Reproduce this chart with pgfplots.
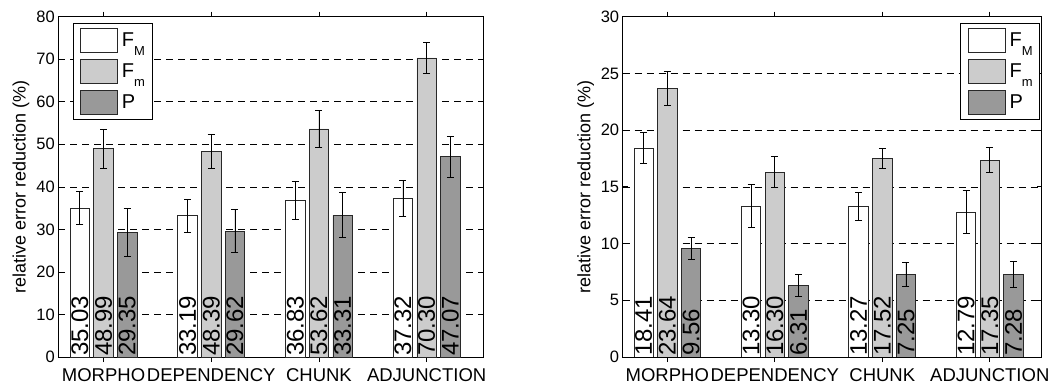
\documentclass[border=0pt]{standalone}
\usepackage{fontspec}
\setmainfont{Liberation Sans}
\usepackage{pgfplots}
\pgfplotsset{compat=1.18}

\definecolor{lightbar}{RGB}{204,204,204}
\definecolor{darkbar}{RGB}{153,153,153}
\definecolor{edgec}{RGB}{40,40,40}

\pgfplotsset{
 mybars/.style={
  scale only axis, height=340.3pt,
  xtick={1,2,3,4}, xticklabels={MORPHO,DEPENDENCY,CHUNK,ADJUNCTION},
  ymin=0,
  ybar, bar width=19.4pt,
  ymajorgrids, major grid style={black, dash pattern=on 7pt off 5pt, line width=0.6pt},
  axis line style={line width=0.8pt},
  major tick length=5pt, tick style={black, line width=0.7pt},
  yticklabel style={font=\fontsize{16.5}{18}\selectfont},
  xticklabel style={font=\fontsize{18.5}{20}\selectfont, inner sep=1pt, yshift=-5pt},
  /pgf/number format/assume math mode=true,
  ylabel={relative error reduction (\%)},
  ylabel style={font=\fontsize{18}{20}\selectfont, at={(axis description cs:-0.088,0.5)}, anchor=center},
  legend style={font=\fontsize{20}{22}\selectfont, draw=black, line width=0.8pt, fill=white,
     nodes={inner sep=0pt}, cells={anchor=west}, row sep=6.4pt, column sep=4pt,
     inner xsep=7pt, inner ysep=4.5pt},
  legend image code/.code={\draw[#1, line width=0.8pt] (0pt,-12pt) rectangle (37pt,12pt);},
 },
 barstyle/.style={draw=edgec, line width=0.8pt,
   error bars/y dir=both, error bars/y explicit,
   error bars/error bar style={black, line width=0.8pt},
   error bars/error mark options={rotate=90, mark size=3.5pt, black, line width=0.8pt}},
 vlab/.style={forget plot, draw=none, fill=none, point meta=explicit symbolic, nodes near coords,
   every node near coord/.append style={rotate=90, anchor=west, inner xsep=1pt, inner ysep=0pt,
   font=\fontsize{24}{24}\selectfont, text=black}},
}
\newcommand{\FM}{F\raisebox{-9pt}{\fontsize{13}{13}\selectfont M}}
\newcommand{\Fm}{F\raisebox{-9pt}{\fontsize{13}{13}\selectfont m}}

\begin{document}
\begin{tikzpicture}
\path[use as bounding box] (0,0) rectangle (1061pt,383pt);

\begin{axis}[mybars, at={(58.3pt,26pt)}, anchor=south west, width=425pt,
  xmin=0.58, xmax=4.526, ymax=80, ytick={0,10,...,80},
  legend style={at={(0.034,0.982)}, anchor=north west}]
\addplot[barstyle, fill=white, bar shift=-23.7pt] coordinates {
 (1,35.03) +- (0,3.9) (2,33.19) +- (0,3.9) (3,36.83) +- (0,4.5) (4,37.32) +- (0,4.2)};
\addplot[barstyle, fill=lightbar, bar shift=0pt] coordinates {
 (1,48.99) +- (0,4.6) (2,48.39) +- (0,4.05) (3,53.62) +- (0,4.4) (4,70.30) +- (0,3.65)};
\addplot[barstyle, fill=darkbar, bar shift=23.7pt] coordinates {
 (1,29.35) +- (0,5.6) (2,29.62) +- (0,5.1) (3,33.31) +- (0,5.3) (4,47.07) +- (0,4.8)};
\legend{\FM,\Fm,P}
\addplot[vlab, bar shift=-23.7pt] coordinates {(1,0) [35.03] (2,0) [33.19] (3,0) [36.83] (4,0) [37.32]};
\addplot[vlab, bar shift=0pt] coordinates {(1,0) [48.99] (2,0) [48.39] (3,0) [53.62] (4,0) [70.30]};
\addplot[vlab, bar shift=23.7pt] coordinates {(1,0) [29.35] (2,0) [29.62] (3,0) [33.31] (4,0) [47.07]};
\end{axis}

\begin{axis}[mybars, at={(622.7pt,26pt)}, anchor=south west, width=419pt,
  xmin=0.585, xmax=4.483, ymax=30, ytick={0,5,...,30},
  legend style={at={(0.996,0.982)}, anchor=north east}]
\addplot[barstyle, fill=white, bar shift=-23.7pt] coordinates {
 (1,18.41) +- (0,1.38) (2,13.30) +- (0,1.9) (3,13.27) +- (0,1.25) (4,12.79) +- (0,1.9)};
\addplot[barstyle, fill=lightbar, bar shift=0pt] coordinates {
 (1,23.64) +- (0,1.5) (2,16.30) +- (0,1.37) (3,17.52) +- (0,0.9) (4,17.35) +- (0,1.1)};
\addplot[barstyle, fill=darkbar, bar shift=23.7pt] coordinates {
 (1,9.56) +- (0,0.95) (2,6.31) +- (0,0.95) (3,7.25) +- (0,1.07) (4,7.28) +- (0,1.16)};
\legend{\FM,\Fm,P}
\addplot[vlab, bar shift=-23.7pt] coordinates {(1,0) [18.41] (2,0) [13.30] (3,0) [13.27] (4,0) [12.79]};
\addplot[vlab, bar shift=0pt] coordinates {(1,0) [23.64] (2,0) [16.30] (3,0) [17.52] (4,0) [17.35]};
\addplot[vlab, bar shift=23.7pt] coordinates {(1,0) [9.56] (2,0) [6.31] (3,0) [7.25] (4,0) [7.28]};
\end{axis}
\end{tikzpicture}
\end{document}
